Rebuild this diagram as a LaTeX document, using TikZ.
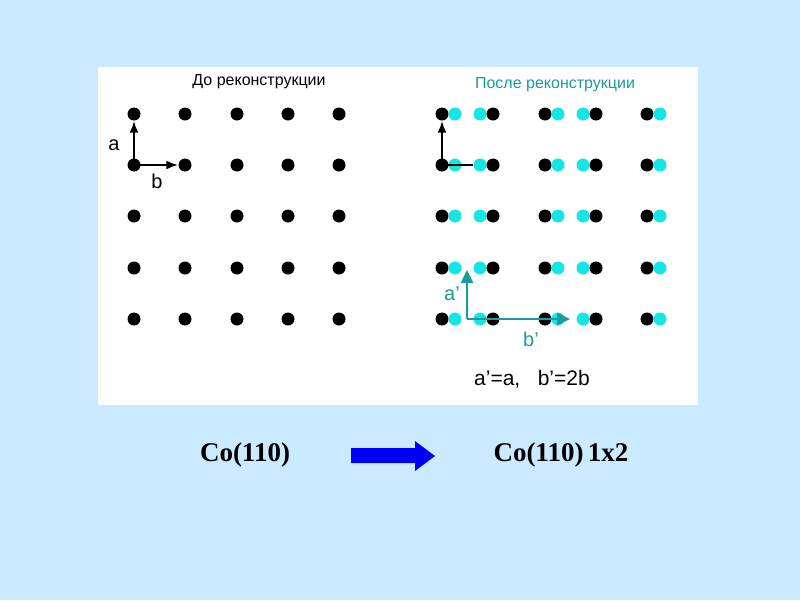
\documentclass[tikz,border=0pt]{standalone}
\usepackage{fontspec}
\setmainfont{Liberation Sans}
\newfontfamily\timesfont{Liberation Serif}
\usetikzlibrary{arrows.meta,positioning}

\definecolor{bgblue}{RGB}{204,234,255}
\definecolor{tealtxt}{RGB}{27,155,155}
\definecolor{cyandot}{RGB}{20,230,230}
\definecolor{arrowblue}{RGB}{0,0,250}

\begin{document}
\begin{tikzpicture}[x=1pt,y=-1pt,
        atom/.style={circle, fill=black, inner sep=0pt, minimum size=13pt},
        catom/.style={circle, fill=cyandot, inner sep=0pt, minimum size=13pt},
        vec/.style={line width=2.2pt},
        tvec/.style={line width=2.5pt, tealtxt, -{Triangle[length=13pt,width=12pt]}},
        lbl/.style={font=\fontsize{20}{22}\selectfont, inner sep=0pt},
        title/.style={font=\fontsize{16}{18}\selectfont, inner sep=0pt},
        coname/.style={font=\timesfont\bfseries\fontsize{27}{29}\selectfont, inner sep=0pt},
        >={Latex[length=12pt,width=9pt]}
    ]
        % background and panel
        \useasboundingbox[fill=bgblue] (0,0) rectangle (800,600);
        \fill[white] (98,67) rectangle (698,405);

        \node[title] (before) at (259,82) {До реконструкции};
        \node[title, text=tealtxt] (after) at (555,85) {После реконструкции};

        % left lattice
        \foreach \i/\x in {1/134,2/185,3/237,4/288,5/339}
            \foreach \j/\y in {1/114,2/165,3/216,4/268,5/319}
                \node[atom] (L-\i-\j) at (\x,\y) {};

        % right lattice, 1x2 reconstruction
        \foreach \j/\y in {1/114,2/165,3/216,4/268,5/319} {
            \node[atom] (R-1-\j) at (442,\y) {};
            \node[catom] (C-1-\j) at (455,\y) {};
            \node[catom] (C-2-\j) at (480,\y) {};
            \node[atom] (R-2-\j) at (493,\y) {};
            \node[atom] (R-3-\j) at (545,\y) {};
            \node[catom] (C-3-\j) at (558,\y) {};
            \node[catom] (C-4-\j) at (583,\y) {};
            \node[atom] (R-4-\j) at (596,\y) {};
            \node[atom] (R-5-\j) at (647,\y) {};
            \node[catom] (C-5-\j) at (660,\y) {};
        }

        % unit vectors before
        \draw[->, vec] (L-1-2.center) -- (L-1-1);
        \draw[->, vec] (L-1-2.center) -- (L-2-2);
        \node[lbl] (la) at (114,145) {a};
        \node[lbl] (lb) at (157,181) {b};

        % unit vectors after
        \draw[->, vec] (R-1-2.center) -- (R-1-1);
        \draw[vec] (R-1-2.center) -- (C-2-2);

        \coordinate (org) at (467,319);
        \coordinate (atip) at (467,270);
        \coordinate (btip) at (570,319);
        \draw[tvec] (org) -- (atip);
        \draw[tvec] (org) -- (btip);
        \node[lbl, text=tealtxt] (la2) at (452,294) {a’};
        \node[lbl, text=tealtxt] (lb2) at (531,339) {b’};
        \node[lbl, font=\fontsize{21}{23}\selectfont] (rel) at (532,379) {a’=a,\ \ \ b’=2b};

        % bottom line
        \node[coname] (co) at (245,455) {Co(110)};
        \node[coname] (co2) at (561,455) {Co(110)\,1x2};
        \fill[arrowblue] (351,448) -- (415,448) -- (415,441) -- (435,456)
            -- (415,471) -- (415,463) -- (351,463) -- cycle;
\end{tikzpicture}
\end{document}
